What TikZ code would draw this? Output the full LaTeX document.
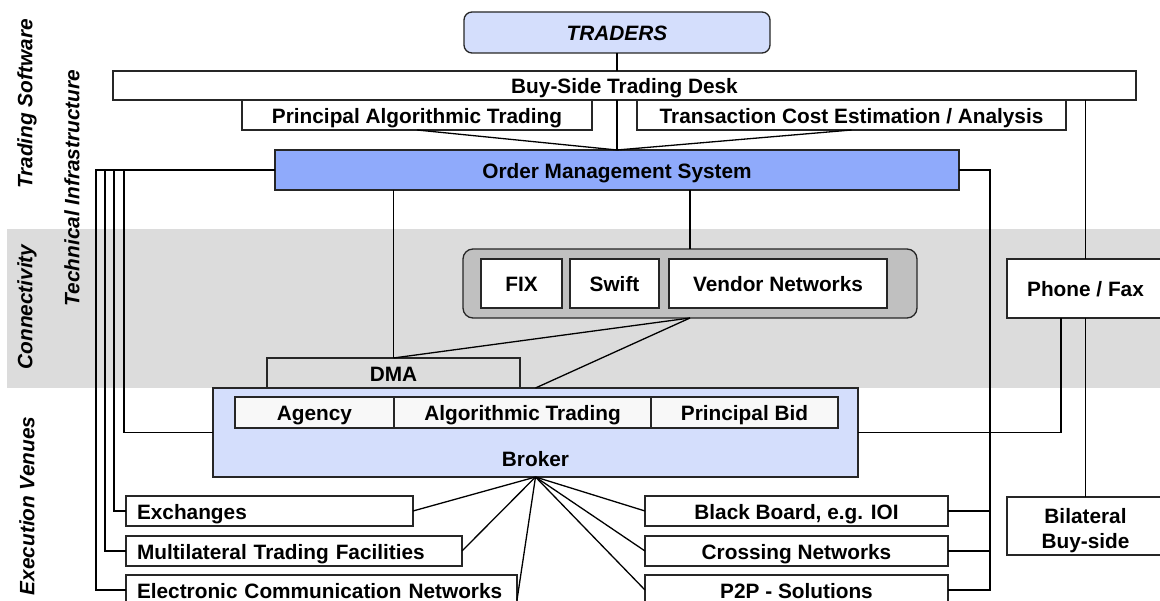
\documentclass[tikz,border=0pt]{standalone}
\usepackage{fontspec}
\setmainfont{Liberation Sans}
\usepackage{tikz}
\usetikzlibrary{positioning}
\definecolor{lightblue}{HTML}{D4DEFC}
\definecolor{omsblue}{HTML}{8FAAFB}
\definecolor{bandgray}{HTML}{DCDCDC}
\definecolor{netgray}{HTML}{C0C0C0}
\definecolor{rowwhite}{HTML}{F8F8F8}

\begin{document}
\begin{tikzpicture}[x=1pt, y=-1pt,
                box/.style={
                  draw=black!85, line width=1.3pt, fill=white,
                  inner sep=0pt, outer sep=0pt,
                  font=\bfseries\fontsize{20.8}{25}\selectfont,
                  text height=17pt, text depth=0pt
                },
                venueL/.style={box, text width=#1, align=left, inner xsep=11pt, minimum height=30pt},
                venueR/.style={box, minimum width=303pt, minimum height=30pt},
                rowbox/.style={box, fill=rowwhite, minimum height=31pt},
                layer/.style={font=\bfseries\itshape\fontsize{20.8}{25}\selectfont, rotate=90, inner sep=0pt},
                wire/.style={draw=black, line width=1.3pt},
              ]
  \useasboundingbox (0,0) rectangle (1160,601);
  \fill[bandgray] (7,229) rectangle (1170,388);

  % layer names
  \node[layer] (software) at (27,104) {Trading Software};
  \node[layer] (infra) at (72,188) {Technical Infrastructure};
  \node[layer] (connectivity) at (27,307) {Connectivity};
  \node[layer] (venues) at (27,506) {Execution Venues};

  % buy side
  \node[box, fill=lightblue, rounded corners=8pt, minimum width=306pt, minimum height=41pt,
        font=\bfseries\itshape\fontsize{20.8}{25}\selectfont] (traders) at (617,32.5) {TRADERS};
  \node[box, minimum width=1023pt, minimum height=29pt] (desk) at (624.5,85.5) {Buy-Side Trading Desk};
  \node[box, minimum width=350pt, minimum height=30pt] (pat) at (417,115) {Principal Algorithmic Trading};
  \node[box, minimum width=429pt, minimum height=30pt] (tce) at (851.5,115) {Transaction Cost Estimation / Analysis};
  \node[box, fill=omsblue, minimum width=684pt, minimum height=40pt] (oms) at (617,170) {Order Management System};

  % connectivity
  \node[box, fill=netgray, rounded corners=10pt, minimum width=454pt, minimum height=69pt] (net) at (690,283.5) {};
  \node[box, minimum width=81pt, minimum height=49pt] (fix) at (521.5,283.5) {FIX};
  \node[box, minimum width=89pt, minimum height=49pt] (swift) at (614.5,283.5) {Swift};
  \node[box, minimum width=218pt, minimum height=49pt] (vendor) at (778,283.5) {Vendor Networks};
  \node[box, fill=bandgray, minimum width=253pt, minimum height=30pt] (dma) at (393.5,373) {DMA};
  \node[box, minimum width=157pt, minimum height=59pt] (phone) at (1085.5,288.5) {Phone / Fax};

  % broker
  \node[box, fill=lightblue, minimum width=645pt, minimum height=89pt] (broker) at (535.5,432.5) {};
  \node[rowbox, minimum width=159pt] (agency) at (314.5,412.5) {Agency};
  \node[rowbox, minimum width=257pt, right=0pt of agency] (algo) {Algorithmic Trading};
  \node[rowbox, minimum width=187pt, right=0pt of algo] (pbid) {Principal Bid};
  \node[box, draw=none, fill=none, above=10pt of broker.south] (brokerlbl) {Broker};

  % venues
  \node[venueL=265pt] (exch) at (269.5,511) {Exchanges};
  \node[venueL=314pt] (mtf) at (294,551) {Multilateral Trading Facilities};
  \node[venueL=369pt] (ecn) at (321.5,590) {Electronic Communication Networks};
  \node[venueR] (bb) at (796.5,511) {Black Board, e.g. IOI};
  \node[venueR] (cross) at (796.5,551) {Crossing Networks};
  \node[venueR] (p2p) at (796.5,590) {P2P - Solutions};
  \node[box, minimum width=157pt, minimum height=58pt, align=center, text height=44pt] (bilateral) at (1085.5,526) {Bilateral\\Buy-side};

  \coordinate (rtrunk) at (990,170);

  \draw[wire] (traders.south) -- (traders.south |- desk.north);
  \draw[wire] (oms.north |- desk.south) -- (oms.north);
  \draw[wire] (pat.south) -- (oms.north);
  \draw[wire] (tce.south) -- (oms.north);
  \draw[wire] (oms.south -| net.north) -- (net.north);
  \draw[wire] (oms.south -| dma.north) -- (dma.north);
  \draw[wire] (net.south) -- (dma.north);
  \draw[wire] (net.south) -- (broker.north);
  \draw[wire] (phone.north |- desk.south) -- (phone.north);
  \draw[wire] (phone.south) -- (bilateral.north);
  \draw[wire] (broker.east) -| ([xshift=-24.5pt]phone.south);
  \foreach \xx/\venue in {96/ecn, 105/mtf, 114/exch, 124/broker}
    \draw[wire] (oms.west) -- (\xx,170) |- (\venue.west);
  \draw[wire] (oms.east) -- (rtrunk) |- (p2p.east);
  \draw[wire] (bb.east) -- (bb.east -| rtrunk);
  \draw[wire] (cross.east) -- (cross.east -| rtrunk);
  \foreach \venue/\side in {exch/east, mtf/east, bb/west, cross/west, p2p/west}
    \draw[wire] (broker.south) -- (\venue.\side);
  \draw[wire] (broker.south) -- ([yshift=-10pt]ecn.east);
\end{tikzpicture}
\end{document}
